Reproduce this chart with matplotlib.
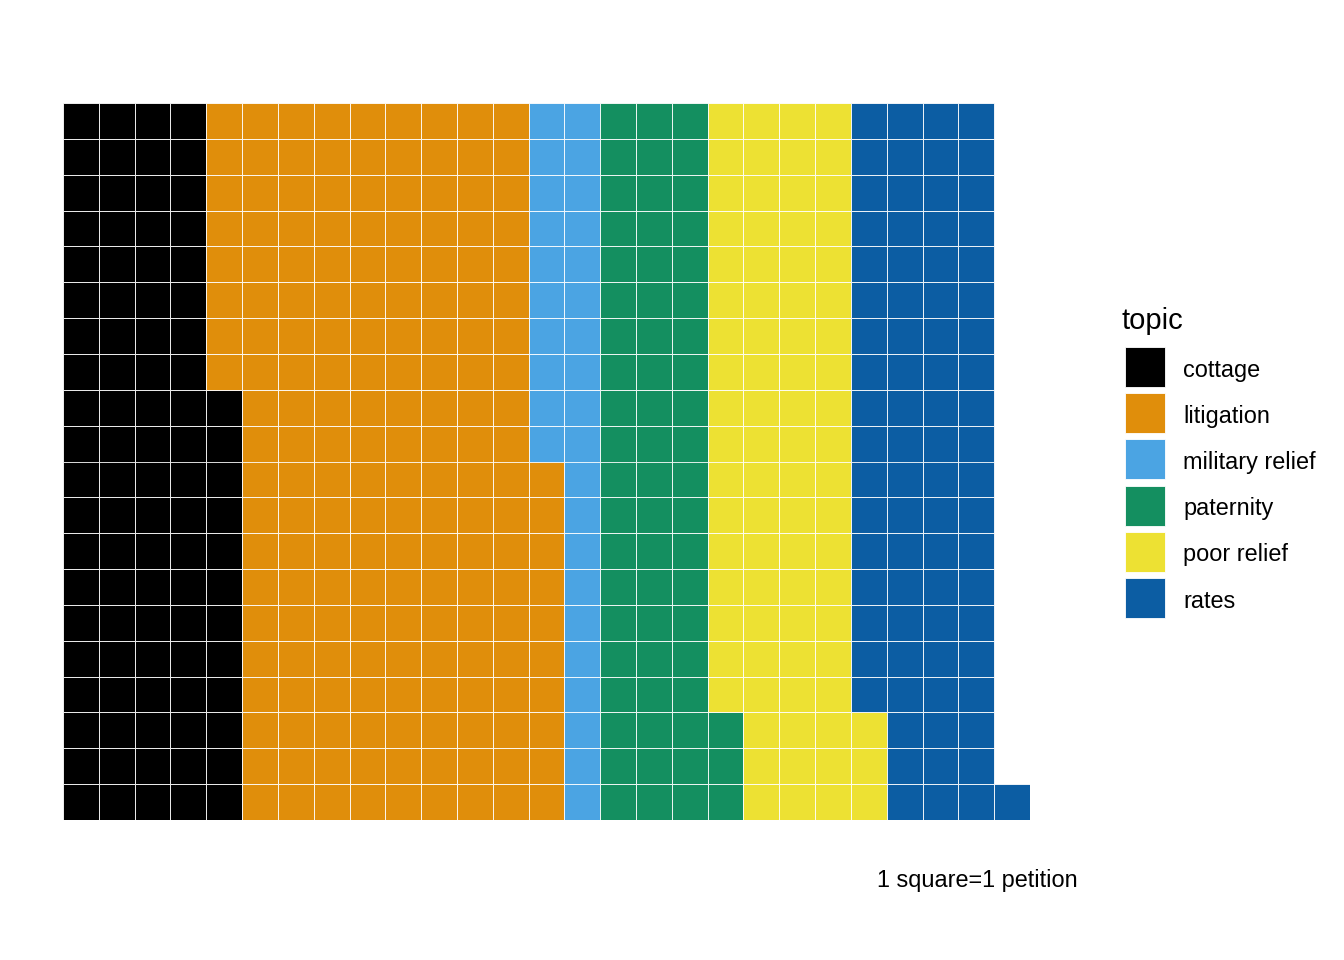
import matplotlib.pyplot as plt
from matplotlib.patches import Rectangle

plt.rcParams['font.family'] = ['Liberation Sans', 'DejaVu Sans']

# petitions per topic (1 square = 1 petition)
topics = ['cottage', 'litigation', 'military relief', 'paternity', 'poor relief', 'rates']
counts = [92, 178, 30, 63, 80, 78]
colors = ['#000000', '#E08E0B', '#4BA4E3', '#148F60', '#EDE133', '#0C5DA3']
n_rows = 20

fig = plt.figure(figsize=(13.44, 9.6), dpi=100)
W, H = 1344, 960
ax = fig.add_axes([63 / W, (960 - 820) / H, (1030 - 63) / W, (820 - 103) / H])

# fill column by column, bottom to top
idx = 0
for topic, n, col in zip(topics, counts, colors):
    for _ in range(n):
        cx, cy = divmod(idx, n_rows)
        ax.add_patch(Rectangle((cx, cy), 1, 1, facecolor=col,
                               edgecolor='white', linewidth=0.6))
        idx += 1

n_cols = (idx + n_rows - 1) // n_rows
ax.set_xlim(0, n_cols)
ax.set_ylim(0, n_rows)
ax.axis('off')

# legend drawn by hand so it sits like the reference
fig.text(1122 / W, 1 - 321 / H, 'topic', fontsize=21, ha='left', va='center')
for i, (topic, col) in enumerate(zip(topics, colors)):
    yc = 367 + i * 46.2
    fig.add_artist(Rectangle((1125 / W, 1 - (yc + 20) / H), 40 / W, 40 / H,
                             transform=fig.transFigure, facecolor=col,
                             edgecolor='white', linewidth=0.6))
    fig.text(1183 / W, 1 - (yc + 3) / H, topic, fontsize=16.9, ha='left', va='center')

fig.text(1078 / W, 1 - 881 / H, '1 square=1 petition', fontsize=16.9,
         ha='right', va='center')

fig.savefig('out.png', dpi=100)
